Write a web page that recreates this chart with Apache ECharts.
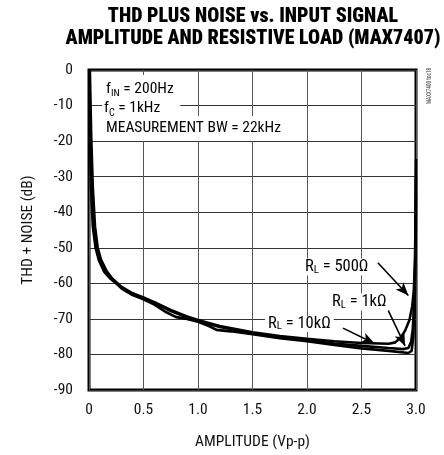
<!DOCTYPE html>
<html>
<head>
<meta charset="utf-8">
<script src="https://cdn.jsdelivr.net/npm/echarts@6/dist/echarts.min.js"></script>
<style>
html,body{margin:0;padding:0;background:#fff;}
#chart{width:444px;height:455px;}
</style>
</head>
<body>
<div id="chart"></div>
<script>
// ---- data (amplitude Vp-p, THD+N dB) ----
var rl500 = [[0.004,0],[0.012,-20],[0.025,-35],[0.045,-45],[0.07,-50.5],[0.1,-53.5],[0.15,-56.3],[0.2,-58.3],[0.3,-61],[0.4,-62.8],[0.5,-64],[0.6,-65.3],[0.75,-67.5],[0.9,-69.3],[1.0,-70.3],[1.2,-72],[1.5,-73.8],[1.75,-74.8],[2.0,-75.6],[2.25,-76.3],[2.5,-76.8],[2.75,-77],[2.81,-76.6],[2.86,-75.2],[2.9,-73.3],[2.94,-70.3],[2.965,-66.5],[2.98,-62],[2.99,-54],[2.996,-42],[3.0,-25]];
var rl1k = [[0.002,0],[0.008,-18],[0.018,-33],[0.035,-44],[0.06,-50],[0.09,-53.5],[0.14,-56.8],[0.2,-58.8],[0.3,-61.3],[0.4,-63],[0.5,-64.2],[0.6,-65.6],[0.75,-67.8],[0.9,-69.6],[1.0,-70.6],[1.2,-72.3],[1.5,-74.1],[1.75,-75.1],[2.0,-76],[2.25,-76.9],[2.5,-77.6],[2.75,-78.2],[2.88,-78.5],[2.93,-78.2],[2.955,-76.5],[2.97,-73],[2.985,-65],[2.995,-50],[3.0,-30]];
var rl10k = [[0.008,0],[0.02,-18],[0.035,-33],[0.055,-44],[0.08,-50],[0.11,-53.3],[0.16,-56.5],[0.22,-59],[0.3,-61.5],[0.4,-63.3],[0.5,-64.5],[0.6,-66],[0.7,-68],[0.8,-69.5],[0.9,-70],[1.0,-70.8],[1.1,-72],[1.17,-73.1],[1.3,-73.5],[1.5,-74.3],[1.75,-75.4],[2.0,-76.3],[2.25,-77.3],[2.5,-78.3],[2.75,-79],[2.93,-79.6],[2.96,-79],[2.975,-75],[2.99,-62],[2.998,-45],[3.0,-35]];
var seriesNames = ['RL = 500Ω','RL = 1kΩ','RL = 10kΩ'];
var titleLines = ['THD PLUS NOISE vs. INPUT SIGNAL','AMPLITUDE AND RESISTIVE LOAD (MAX7407)'];
var xName = 'AMPLITUDE (Vp-p)';
var yName = 'THD + NOISE (dB)';

var FONT = '"Roboto Condensed","Open Sans Condensed",sans-serif';
var FS = 15.5;
var chart = echarts.init(document.getElementById('chart'), null, {renderer:'canvas'});

function richStyle(text, size, lh, extra){
  var s = {
    text: text,
    rich: {
      m: {fontSize:size, fontFamily:FONT, color:'#111', lineHeight:lh, verticalAlign:'middle'},
      s: {fontSize:size*0.66, fontFamily:FONT, color:'#111', lineHeight:10, verticalAlign:'bottom'}
    },
    verticalAlign:'middle',
    backgroundColor:'#fff'
  };
  for (var k in extra) s[k] = extra[k];
  return s;
}

function arrow(from, to){
  return [{coord:from, symbol:'none'},{coord:to, symbol:'arrow'}];
}

var lineStyle = {color:'#000', width:2.6};

var option = {
  animation:false,
  backgroundColor:'#fff',
  grid:{left:89, right:28, top:70, bottom:61, show:true, borderColor:'#000', borderWidth:3, backgroundColor:'transparent'},
  xAxis:{
    type:'value', min:0, max:3, interval:0.5,
    name:xName, nameLocation:'middle', nameGap:44,
    nameTextStyle:{fontSize:FS, fontFamily:FONT, color:'#111'},
    axisLine:{show:false}, axisTick:{show:false},
    axisLabel:{fontSize:FS, fontFamily:FONT, color:'#111', margin:12,
      formatter:function(v){return v===0?'0':v.toFixed(1);}},
    splitLine:{show:true, lineStyle:{color:'#555', width:1}}
  },
  yAxis:{
    type:'value', min:-90, max:0, interval:10,
    name:yName, nameLocation:'middle', nameGap:53,
    nameTextStyle:{fontSize:FS, fontFamily:FONT, color:'#111'},
    axisLine:{show:false}, axisTick:{show:false},
    axisLabel:{fontSize:FS, fontFamily:FONT, color:'#111', margin:16},
    splitLine:{show:true, lineStyle:{color:'#333', width:1}}
  },
  series:[
    {name:seriesNames[0], type:'line', data:rl500, showSymbol:false, symbol:'none', lineStyle:lineStyle, z:3,
     markLine:{silent:true, symbolSize:[8,13], label:{show:false}, lineStyle:{color:'#000', width:1.6, type:'solid'},
       data:[arrow([2.65,-54.2],[2.93,-63.4]), arrow([2.745,-67.6],[2.9,-77.6]), arrow([2.33,-72.6],[2.62,-76.9])]}},
    {name:seriesNames[1], type:'line', data:rl1k, showSymbol:false, symbol:'none', lineStyle:lineStyle, z:3},
    {name:seriesNames[2], type:'line', data:rl10k, showSymbol:false, symbol:'none', lineStyle:lineStyle, z:3}
  ],
  graphic:[
    {type:'text', x:253, y:7, z:20, style:{text:titleLines[0], font:'900 20px '+FONT, fill:'#000', align:'center', verticalAlign:'top'}},
    {type:'text', x:253, y:29, z:20, style:{text:titleLines[1], font:'900 20px '+FONT, fill:'#000', align:'center', verticalAlign:'top'}},
    {type:'text', x:104, y:88, z:20, style:richStyle('{m|f}{s|IN}{m| = 200Hz}', FS, 20, {padding:[4,10,2,2]})},
    {type:'text', x:102, y:108, z:20, style:richStyle('{m|f}{s|C}{m| = 1kHz}', FS, 20, {padding:[2,20,2,2]})},
    {type:'text', x:104, y:128.5, z:20, style:richStyle('{m|MEASUREMENT BW = 22kHz}', FS, 20, {padding:[2,2,3,2]})},
    {type:'text', x:303, y:267, z:20, style:richStyle('{m|R}{s|L}{m| = 500Ω}', 16.5, 17, {padding:[0,2,0,2]})},
    {type:'text', x:330, y:302, z:20, style:richStyle('{m|R}{s|L}{m| = 1kΩ}', 16.5, 17, {padding:[0,2,0,2]})},
    {type:'text', x:265, y:324, z:20, style:richStyle('{m|R}{s|L}{m| = 10kΩ}', 16.5, 16, {padding:[0,3,0,3]})},
    {type:'text', x:429, y:86, z:20, rotation:Math.PI/2, scaleX:0.75, style:{text:'MAXX7400 toc18', font:'7px '+FONT, fill:'#333', align:'center', verticalAlign:'middle'}}
  ]
};
chart.setOption(option);
</script>
</body>
</html>
